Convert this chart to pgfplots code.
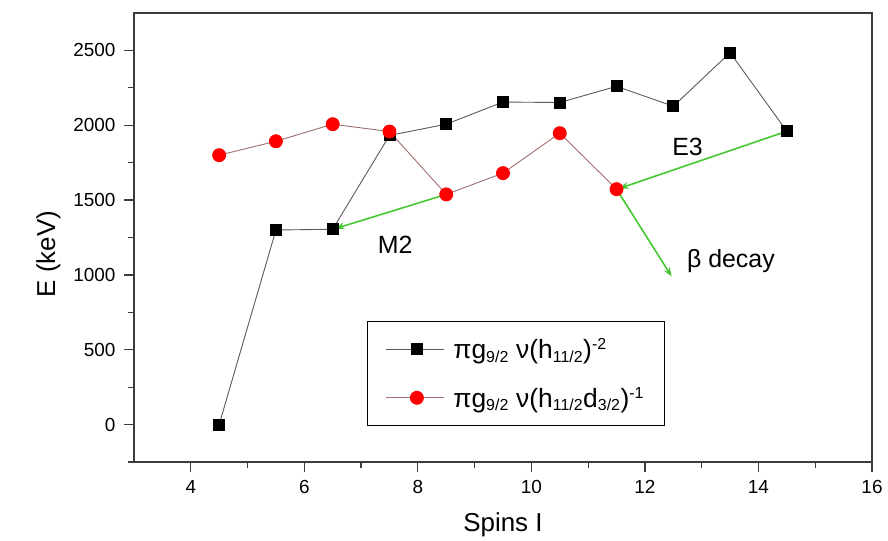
\documentclass[border=0pt]{standalone}
\usepackage{fontspec}
\setmainfont{Liberation Sans}
\usepackage{pgfplots}
\pgfplotsset{compat=1.18}
\usetikzlibrary{arrows.meta}

\definecolor{decaygreen}{RGB}{70,200,50}
\definecolor{redline}{RGB}{160,110,110}
\definecolor{blackline}{RGB}{90,90,90}
\definecolor{axisgray}{RGB}{60,60,60}

\newcommand{\lsub}[1]{\textsubscript{\fontsize{16}{16}\selectfont #1}}
\newcommand{\lsup}[1]{\textsuperscript{\fontsize{16}{16}\selectfont #1}}

\begin{document}
\begin{tikzpicture}
\begin{axis}[
  name=ax,
  scale only axis,
  width=738bp, height=449bp,
  xmin=3, xmax=16, ymin=-250, ymax=2750,
  xtick={4,6,...,16}, ytick={0,500,...,2500},
  minor xtick={5,7,...,15}, minor ytick={-250,250,...,2250},
  tick align=outside, tick pos=left,
  major tick length=10bp, minor tick length=6bp,
  axis line style={line width=1.3bp, axisgray},
  every tick/.style={line width=1.3bp, axisgray},
  /pgf/number format/assume math mode=true,
  /pgf/number format/1000 sep={},
  ticklabel style={font=\fontsize{19}{19}\selectfont},
  xticklabel style={yshift=-5bp},
  yticklabel style={xshift=-5bp},
  xlabel={Spins I}, ylabel={E (keV)},
  label style={font=\fontsize{26}{26}\selectfont},
  xlabel style={yshift=-12bp},
  ylabel style={at={(ticklabel cs:0.463)}, yshift=6bp},
  legend cell align=left,
  legend style={at={(0.3157,0.314)}, anchor=north west,
    draw=black, line width=0.9bp,
    font=\fontsize{26.5}{26.5}\selectfont,
    inner xsep=18bp, inner ysep=15bp, row sep=23bp,
    /tikz/every odd column/.append style={column sep=7bp}},
  legend image code/.code={%
    \draw[mark repeat=2,mark phase=2,#1]
      plot coordinates {(0bp,0bp) (31bp,0bp) (58bp,0bp)};},
]
% pi g9/2 nu (h11/2)^-2 band
\addplot[blackline, line width=0.9bp, mark=square*,
  mark size=5.5bp, mark options={fill=black, draw=black, solid}]
  coordinates {
  (4.5,0) (5.5,1300) (6.5,1305) (7.5,1932) (8.5,2007) (9.5,2155)
  (10.5,2152) (11.5,2260) (12.5,2127) (13.5,2485) (14.5,1960)};
\addlegendentry{πg\lsub{9/2} ν(h\lsub{11/2})\lsup{-2}}

% pi g9/2 nu (h11/2 d3/2)^-1 band
\addplot[redline, line width=0.9bp, mark=*,
  mark size=6.5bp, mark options={fill=red, draw=red, solid}]
  coordinates {
  (4.5,1800) (5.5,1893) (6.5,2007) (7.5,1958) (8.5,1538) (9.5,1680)
  (10.5,1947) (11.5,1573)};
\addlegendentry{πg\lsub{9/2} ν(h\lsub{11/2}d\lsub{3/2})\lsup{-1}}

% transitions
\draw[decaygreen, line width=1.6bp, -{Stealth[length=9bp,width=7bp]}]
  (8.5,1538) -- (6.55,1310);
\draw[decaygreen, line width=1.6bp, -{Stealth[length=9bp,width=7bp]}]
  (14.5,1960) -- (11.55,1578);
\draw[decaygreen, line width=1.6bp, -{Stealth[length=9bp,width=7bp]}]
  (11.5,1573) -- (12.47,990);

\node[font=\fontsize{25}{25}\selectfont] at (7.6,1200) {M2};
\node[font=\fontsize{25}{25}\selectfont] at (12.75,1855) {E3};
\node[font=\fontsize{25}{25}\selectfont, anchor=west] at (12.68,1090) {β decay};
\end{axis}
\path ([shift={(-134bp,-77bp)}]ax.south west)
  rectangle ([shift={(754bp,462bp)}]ax.south west);
\end{tikzpicture}
\end{document}
